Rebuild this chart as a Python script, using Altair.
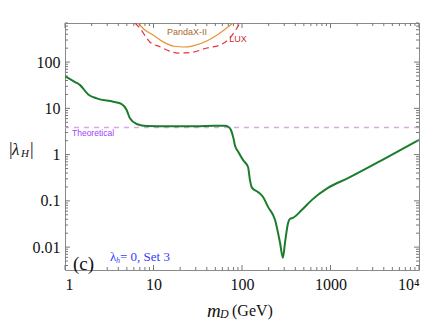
import altair as alt
import pandas as pd

# ---- data ----
green_x = [1, 1.3, 1.48, 1.83, 2.28, 3.51, 4.37, 4.97, 5.42, 6.45, 8.4, 15, 30, 49, 64, 70, 75, 80, 83, 91,
           103, 117, 123, 130, 151, 173, 197, 236, 269, 290, 306, 331, 349, 377, 476, 617, 935, 1577, 3820, 10000]
green_y = [50, 37, 31.8, 20, 16.4, 13.9, 12.4, 9.2, 6.08, 4.58, 4.15, 4.1, 4.1, 4.2, 4.2, 4.0, 3.4, 2.27, 1.62, 1.14,
           0.76, 0.54, 0.28, 0.19, 0.156, 0.121, 0.074, 0.039, 0.0124, 0.0059, 0.0124, 0.033, 0.041, 0.043, 0.064,
           0.105, 0.19, 0.31, 0.76, 2.07]

pandax_x = [6.7, 8.0, 9.9, 13, 17, 22, 28, 40, 56.4, 79]
pandax_y = [700, 494, 385, 270, 220, 212, 225, 286, 426, 700]

lux_x = [6.2, 7.04, 9.1, 11.8, 18.9, 25.8, 40.3, 56.4, 73, 95]
lux_y = [700, 537, 272, 215, 157, 160, 202, 234, 332, 700]

theoretical_y = [3.86]

x_major = [1, 10, 100, 1000, 10000]
y_major = [0.01, 0.1, 1, 10, 100]
x_minor = [k * 10 ** n for n in range(0, 4) for k in range(2, 10)]
y_minor = [round(k * 10.0 ** n, 6) for n in range(-3, 3) for k in range(2, 10)
           if 0.0032 <= k * 10.0 ** n <= 700]

W, H = 354, 247
SERIF = "Liberation Serif"
SANS = "Liberation Sans"

xs = alt.Scale(type="log", domain=[1, 10000], nice=False)
ys = alt.Scale(type="log", domain=[0.0032, 700], nice=False)

green_df = pd.DataFrame({"x": green_x, "y": green_y})
pandax_df = pd.DataFrame({"x": pandax_x, "y": pandax_y})
lux_df = pd.DataFrame({"x": lux_x, "y": lux_y})
theo_df = pd.DataFrame({"y": theoretical_y})

green = alt.Chart(green_df).mark_line(color="#1b7d2b", strokeWidth=2, interpolate="monotone", clip=True).encode(
    x=alt.X("x:Q", scale=xs, axis=alt.Axis(
        values=x_major, ticks=False, grid=False, domain=False, title=None,
        labelFont=SERIF, labelFontSize=16, labelColor="#111", labelPadding=6,
        labelExpr="datum.value >= 10000 ? '10⁴' : format(datum.value, '~g')")),
    y=alt.Y("y:Q", scale=ys, axis=alt.Axis(
        values=y_major, ticks=False, grid=False, domain=False, title=None,
        labelFont=SERIF, labelFontSize=16, labelColor="#111", labelPadding=5,
        labelExpr="format(datum.value, '~g')")),
)

pandax = alt.Chart(pandax_df).mark_line(color="#e8922e", strokeWidth=1.2, interpolate="monotone", clip=True).encode(
    x=alt.X("x:Q", scale=xs, axis=None), y=alt.Y("y:Q", scale=ys, axis=None))
lux = alt.Chart(lux_df).mark_line(color="#e8323a", strokeWidth=1.2, strokeDash=[6, 4],
                                  interpolate="monotone", clip=True).encode(
    x=alt.X("x:Q", scale=xs, axis=None), y=alt.Y("y:Q", scale=ys, axis=None))
theo = alt.Chart(theo_df).mark_rule(color="#d9a6e3", strokeWidth=1.5, strokeDash=[5, 5]).encode(
    y=alt.Y("y:Q", scale=ys, axis=None))

TICK = "#777777"


def xticks(vals, length):
    df = pd.DataFrame({"v": vals})
    b = alt.Chart(df).mark_rule(color=TICK, strokeWidth=1).encode(
        x=alt.X("v:Q", scale=xs, axis=None), y=alt.value(H), y2=alt.value(H - length))
    t = alt.Chart(df).mark_rule(color=TICK, strokeWidth=1).encode(
        x=alt.X("v:Q", scale=xs, axis=None), y=alt.value(0), y2=alt.value(length))
    return [b, t]


def yticks(vals, length):
    df = pd.DataFrame({"v": vals})
    l = alt.Chart(df).mark_rule(color=TICK, strokeWidth=1).encode(
        y=alt.Y("v:Q", scale=ys, axis=None), x=alt.value(0), x2=alt.value(length))
    r = alt.Chart(df).mark_rule(color=TICK, strokeWidth=1).encode(
        y=alt.Y("v:Q", scale=ys, axis=None), x=alt.value(W), x2=alt.value(W - length))
    return [l, r]


ticks = xticks(x_major, 5) + xticks(x_minor, 3) + yticks(y_major, 5) + yticks(y_minor, 3)

one = pd.DataFrame({"a": [0]})


def txt(text, x, y, size, color="#111", font=SERIF, style="normal", align="left"):
    return alt.Chart(one).mark_text(text=text, font=font, fontSize=size, fontStyle=style, color=color,
                                    align=align, baseline="middle").encode(x=alt.value(x), y=alt.value(y))


texts = [
    txt("PandaX-II", 122, 9, 9, color="#a9692c", font=SANS, align="center"),
    txt("LUX", 173, 16, 9, color="#cc2a33", font=SANS, align="center"),
    txt("Theoretical", 7, 110, 8.5, color="#a23dff", font=SANS),
    txt("(c)", 8, 241, 19),
    txt("λ", 45, 234, 13, color="#3a3aff"),
    txt("h", 51, 237.5, 8, color="#3a3aff", style="italic"),
    txt("= 0,  Set 3", 55, 234, 13, color="#3a3aff"),
    # y title |λ_H|
    txt("|", -56, 127, 18),
    txt("λ", -53, 127, 17, style="italic"),
    txt("H", -44, 131, 11, style="italic"),
    txt("|", -35, 127, 18),
    # x title m_D (GeV)
    txt("m", 142, 288, 19, style="italic"),
    txt("D", 155, 291, 12, style="italic"),
    txt("(GeV)", 167, 288, 16),
]

chart = alt.layer(theo, pandax, lux, green, *ticks, *texts).resolve_axis(
    x="independent", y="independent"
).properties(
    width=W, height=H,
    padding={"left": 57, "top": 15, "right": 4, "bottom": 50},
    autosize=alt.AutoSizeParams(type="none"),
).configure_view(stroke="#8a8a8a", strokeWidth=1)

chart.save("out.html", embed_options={"renderer": "svg", "actions": False})
